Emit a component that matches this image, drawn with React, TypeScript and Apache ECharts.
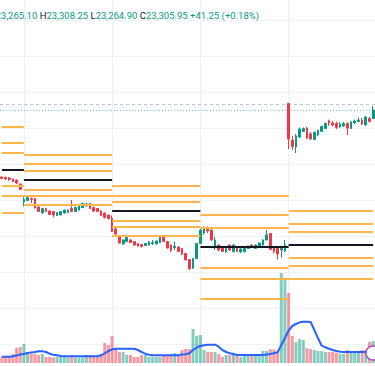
import React, { useEffect, useRef } from 'react';
import * as echarts from 'echarts';

// ---- OHLC (price points), 102 bars, 5 sessions ----
const opens = [
  23232, 23231.25, 23230.5, 23229.25, 23227.75, 23222.25,
  23197.25, 23199.25, 23202, 23202, 23190.25, 23182, 23188.25, 23184.75, 23184, 23178.5, 23179.25, 23182, 23182.75, 23188.25, 23184, 23186, 23189.5, 23191.75, 23195.25, 23189.5, 23188.25, 23184.75, 23182, 23179.25,
  23174.25, 23159.75, 23149.25, 23139, 23142.25, 23144.5, 23142.25, 23139.5, 23138.25, 23136.75, 23137.5, 23139.5, 23139, 23141, 23148, 23142.25, 23137.5, 23134, 23134.75, 23132.75, 23125.75, 23117.25, 23105.5, 23118.75,
  23139.5, 23154.25, 23159.75, 23158.25, 23133.25, 23137.5, 23135.5, 23127.75, 23137.5, 23128.5, 23134.75, 23127.75, 23128.5, 23132.75, 23137.5, 23132.75, 23136, 23137.5, 23144.5, 23153.5, 23134, 23132.75, 23130.5, 23129.25,
  23334, 23283.25, 23273.5, 23287.5, 23295.25, 23300, 23291.75, 23284, 23290.25, 23295.25, 23299.25, 23309.75, 23307, 23306.25, 23301.5, 23302.75, 23306.25, 23299.25, 23307, 23309, 23311, 23304.25, 23313.25, 23313.25,
];
const closes = [
  23229.75, 23229.25, 23228.5, 23225.75, 23223.5, 23214.5,
  23200.75, 23203.5, 23200.75, 23189, 23184, 23188.25, 23184, 23179.75, 23179.25, 23182.75, 23184, 23186, 23186, 23184, 23189.5, 23191.75, 23195.25, 23194.5, 23188.25, 23184.75, 23184, 23178.5, 23175.75, 23174.25,
  23156.25, 23152.75, 23140.25, 23144.5, 23148, 23141, 23137.5, 23136, 23135.5, 23139.5, 23141.75, 23141, 23143, 23148.5, 23142.25, 23133.25, 23129.75, 23136, 23128.5, 23125, 23116.75, 23104.25, 23118.75, 23139.5,
  23158.25, 23159.75, 23157, 23144.5, 23144.5, 23130.5, 23128.5, 23132.75, 23130.5, 23137.5, 23128.5, 23132, 23132.75, 23136, 23134, 23137.5, 23140.25, 23144.5, 23151.5, 23131.25, 23128.5, 23125, 23132.75, 23137.5,
  23284.75, 23274.25, 23289, 23298.5, 23299.25, 23286, 23284.75, 23293.75, 23296.5, 23302, 23306.25, 23307, 23304.25, 23300.75, 23305.5, 23306.25, 23300, 23308.25, 23309.75, 23311, 23305.5, 23315.25, 23309, 23325,
];
const highs = [
  23232.75, 23232.75, 23232, 23229.75, 23228.5, 23223,
  23204.75, 23205.5, 23203.5, 23202.75, 23191, 23189, 23189, 23185.5, 23184.75, 23183.25, 23184.75, 23186.75, 23186.75, 23200, 23191, 23192.25, 23195.75, 23195.75, 23195.75, 23191, 23189, 23186, 23182.75, 23179.75,
  23178.5, 23161, 23151.5, 23145.25, 23152, 23145.75, 23143, 23140.25, 23139, 23140.25, 23143, 23144.5, 23143.75, 23150, 23148.5, 23143, 23138.25, 23142.25, 23135.5, 23133.25, 23126.5, 23118, 23119.5, 23140.25,
  23159.75, 23163.25, 23163.25, 23159, 23148.5, 23138.25, 23136, 23134, 23138.25, 23139, 23135.5, 23133.25, 23134, 23136.75, 23138.25, 23138.25, 23141, 23145.25, 23158.25, 23154.25, 23135.5, 23134, 23136, 23144.5,
  23334.75, 23289, 23291.75, 23300.75, 23300.75, 23301.5, 23294.5, 23295.25, 23298, 23303.5, 23307.75, 23311.75, 23309.75, 23309, 23308.25, 23308.25, 23307.75, 23309.75, 23311.75, 23314.5, 23314, 23316.75, 23315.25, 23330.5,
];
const lows = [
  23229.25, 23227.75, 23226.5, 23225, 23222.25, 23214,
  23191, 23198.5, 23195.75, 23188.25, 23183.25, 23181.25, 23183.25, 23179.25, 23175.75, 23177.75, 23178.5, 23181.25, 23182, 23183.25, 23183.25, 23185.5, 23189, 23191, 23187.5, 23183.25, 23183.25, 23177.75, 23174.25, 23173,
  23155.5, 23151.5, 23139.5, 23137.5, 23141.75, 23140.25, 23136.75, 23135.5, 23134, 23136, 23136.75, 23137.5, 23138.25, 23140.25, 23141.75, 23132.75, 23127.75, 23130.5, 23127.75, 23123.5, 23116, 23103.5, 23104.25, 23118,
  23139, 23152, 23154.25, 23143, 23130.5, 23129.25, 23127.75, 23126.5, 23129.25, 23127, 23127.75, 23126.5, 23127, 23132, 23133.25, 23132, 23135.5, 23136.75, 23143.75, 23130.5, 23125.75, 23117.25, 23120, 23127.75,
  23270.75, 23269.5, 23265.25, 23286, 23294.5, 23284.75, 23283.25, 23283.25, 23289, 23294.5, 23298.5, 23302.75, 23302.75, 23298.5, 23300, 23301.5, 23290.25, 23298.5, 23305.5, 23308.25, 23304.25, 23302.75, 23307.75, 23312.5,
];

// ---- Volume (thousands) and its moving average ----
const volumes = [
  6, 6, 6, 9, 15, 16,
  19, 11, 9, 9, 8, 9, 6, 6, 5.5, 6, 6, 6, 5.5, 8, 5.5, 5.5, 5.5, 8, 8, 8, 6, 9, 20, 18,
  27, 15, 11, 11, 8, 8, 6, 6, 8, 8, 6, 6, 6, 6, 8, 8, 9, 10, 8, 13, 14, 14, 34, 27,
  28, 13, 11, 11, 11, 9, 6, 8, 8, 9, 8, 6, 7, 8, 9, 9, 9, 12, 12, 14, 13.5, 11, 90, 85,
  70, 27, 21, 24, 23, 15, 14, 13, 12, 12, 11, 11, 11, 10, 9, 9, 13, 12, 10, 11, 13, 13, 21, 22,
];
const volumeMA = [
  6.3, 6.3, 6.3, 6.7, 7.5, 8.5,
  9, 10, 10.5, 11, 11.7, 11.7, 11, 9.3, 8.3, 7.7, 7, 6.8, 6.8, 6.8, 6.8, 6.8, 6.8, 6.8, 6.8, 6.8, 6.8, 7.7, 9.7, 12,
  13.7, 14.3, 14.3, 14.3, 14.3, 14.3, 14.3, 13, 11, 9.3, 8.3, 7.7, 7.7, 7.7, 7.7, 7.7, 7.7, 7.7, 7.7, 8.5, 8.7, 9.7, 13, 15.3,
  17, 17.7, 18.3, 18.3, 18.3, 16.3, 13, 11, 9.7, 9, 8, 8, 8, 8, 8, 8, 8, 8, 8.5, 9, 9.7, 10.7, 17.7, 25,
  32.5, 37, 39, 40.7, 41.3, 41.3, 41, 33, 24.7, 17.3, 15.7, 14.3, 13, 12, 11.3, 11, 11, 11, 11, 11, 11, 11, 11, 11,
];

// ---- Sessions and pivot levels ----
const sessionStarts = [0, 6, 30, 54, 78];
const sessionEnds = [6, 30, 54, 78, 101];
const pivotR3 = [23301.75, 23263.5, 23219.5, 23206, 23184.75];
const pivotR2 = [23279, 23250, 23205.5, 23179.25, 23166.75];
const pivotR1 = [23265, 23241.25, 23197.25, 23161, 23155.25];
const pivotP = [23241.75, 23228.25, 23184.75, 23134.75, 23138];
const pivotS1 = [23219.5, 23214.75, 23171.5, 23106.5, 23120];
const pivotS2 = [23205.5, 23205.5, 23163, 23090, 23108.75];
const pivotS3 = [23182.25, 23193, 23150, 23063, 23090.25];
const referenceLevel = 23332.75;

// ---- Legend header ----
const legendLabels = ['O', 'H', 'L', 'C'];
const legendValues = ['23,265.10', '23,308.25', '23,264.90', '23,305.95'];
const legendChange = '+41.25 (+0.18%)';

const UP = '#089981';
const DOWN = '#F23645';
const ORANGE = '#FFB74D';
const BLACK = '#131722';
const FONT = 'Roboto, "Noto Sans", sans-serif';

export default function App() {
  const ref = useRef<HTMLDivElement>(null);

  useEffect(() => {
    document.body.style.margin = '0';
    if (!ref.current) return;
    const chart = echarts.init(ref.current, undefined, { renderer: 'svg' });

    const cats = opens.map((_, i) => String(i));
    const candles = opens.map((o, i) => [o, closes[i], lows[i], highs[i]]);
    const vols = volumes.map((v, i) => ({
      value: v,
      itemStyle: { color: closes[i] >= opens[i] ? 'rgba(8,153,129,0.5)' : 'rgba(242,54,69,0.5)' },
    }));

    const pivotLines: any[] = [];
    const levelSets = [
      [pivotR3, ORANGE], [pivotR2, ORANGE], [pivotR1, ORANGE], [pivotP, BLACK],
      [pivotS1, ORANGE], [pivotS2, ORANGE], [pivotS3, ORANGE],
    ] as [number[], string][];
    sessionStarts.forEach((s, k) => {
      levelSets.forEach(([arr, color]) => {
        pivotLines.push([
          { coord: [cats[s], arr[k]], lineStyle: { color, width: 2, type: 'solid' } },
          { coord: [cats[sessionEnds[k]], arr[k]] },
        ]);
      });
    });

    const hiddenCat = {
      type: 'category', data: cats, boundaryGap: true,
      axisLine: { show: false }, axisTick: { show: false }, axisLabel: { show: false }, splitLine: { show: false },
    };

    const legendText = legendLabels.map((l, i) => `{l|${l}}{v|${legendValues[i]}}`).join(' ') + ` {v|${legendChange}}`;

    chart.setOption({
      animation: false,
      textStyle: { fontFamily: FONT },
      grid: [
        { left: -1, right: -1, top: 20, bottom: 22 },
        { left: -1, right: -1, top: 263, bottom: 3 },
        { left: -1, right: -1, top: 0, bottom: 0 },
      ],
      xAxis: [
        { ...hiddenCat, gridIndex: 0 },
        { ...hiddenCat, gridIndex: 1 },
        { ...hiddenCat, gridIndex: 2 },
      ],
      yAxis: [
        {
          type: 'value', gridIndex: 0, min: 23000, max: 23450, interval: 50,
          axisLine: { show: false }, axisTick: { show: false }, axisLabel: { show: false },
          splitLine: { show: true, lineStyle: { color: '#F1F2F4', width: 1 } },
        },
        { type: 'value', gridIndex: 1, min: 0, max: 100, show: false, splitLine: { show: false } },
        { type: 'value', gridIndex: 2, min: 0, max: 1, show: false, splitLine: { show: false } },
      ],
      series: [
        {
          type: 'line', xAxisIndex: 2, yAxisIndex: 2, data: [], z: 1, silent: true,
          markLine: {
            z: 1,
            symbol: 'none', silent: true, label: { show: false },
            lineStyle: { color: '#EDEFF3', width: 1, type: 'solid' },
            data: sessionStarts.slice(1).map((i) => ({ xAxis: cats[i] })),
          },
        },
        {
          type: 'bar', xAxisIndex: 1, yAxisIndex: 1, data: vols, barWidth: 3, z: 2, silent: true,
        },
        {
          type: 'line', xAxisIndex: 1, yAxisIndex: 1, data: volumeMA, showSymbol: false, symbol: 'none',
          lineStyle: { color: '#2962FF', width: 2 }, z: 3, silent: true,
        },
        {
          type: 'candlestick', xAxisIndex: 0, yAxisIndex: 0, data: candles, barWidth: 2.2, z: 4,
          itemStyle: { color: UP, color0: DOWN, borderColor: UP, borderColor0: DOWN, borderWidth: 1 },
          markLine: {
            z: 3,
            symbol: 'none', silent: true, label: { show: false },
            data: [
              { yAxis: referenceLevel, lineStyle: { color: '#C3C5CB', width: 1, type: [3, 3] } },
              { yAxis: closes[closes.length - 1], lineStyle: { color: '#7FCBBE', width: 1, type: [1, 2] } },
            ],
          },
        },
        {
          type: 'line', xAxisIndex: 0, yAxisIndex: 0, data: [], z: 5, silent: true,
          markLine: { z: 5, symbol: 'none', silent: true, label: { show: false }, data: pivotLines },
        },
      ],
      graphic: [
        {
          type: 'text', x: -11, y: 15, z: 10, silent: true,
          style: {
            text: legendText,
            verticalAlign: 'middle',
            fontSize: 9.5,
            fontFamily: FONT,
            fill: UP,
            rich: {
              l: { fill: BLACK, fontSize: 9.5, fontFamily: FONT },
              v: { fill: UP, fontSize: 9.5, fontFamily: FONT },
            },
          },
        },
        {
          type: 'circle', z: 10, silent: true,
          shape: { cx: 373, cy: 353, r: 7 },
          style: { fill: '#ffffff', stroke: '#AB47BC', lineWidth: 1.5 },
        },
      ],
    });

    return () => chart.dispose();
  }, []);

  return <div ref={ref} style={{ width: 375, height: 366 }} />;
}
